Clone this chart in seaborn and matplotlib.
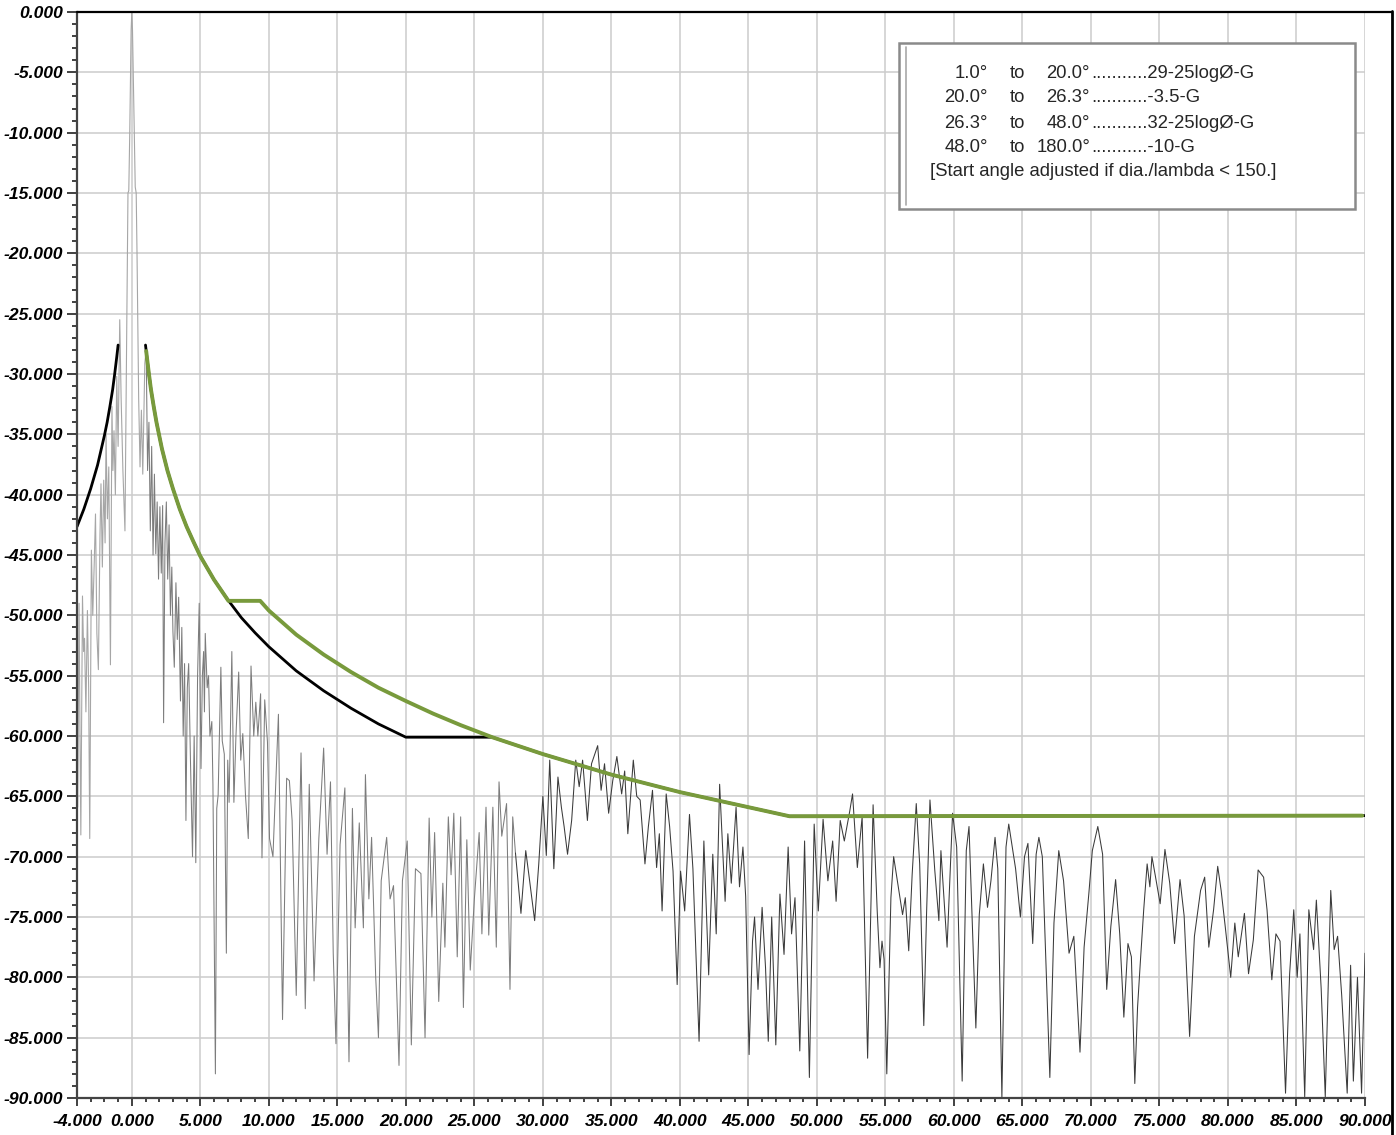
import matplotlib
matplotlib.use("Agg")
import matplotlib.pyplot as plt
import seaborn as sns
import pandas as pd
from matplotlib.ticker import FixedLocator, MultipleLocator, FuncFormatter
from matplotlib.lines import Line2D
from matplotlib.patches import Rectangle

# ---------------- data ----------------
trace_x = [-4.0, -3.95, -3.85, -3.78, -3.72, -3.6, -3.52, -3.45, -3.35, -3.24, -3.15, -3.07, -2.95, -2.85, -2.75,
           -2.65, -2.55, -2.44, -2.32, -2.25, -2.15, -2.05, -1.95, -1.88, -1.78, -1.68, -1.56, -1.45, -1.38, -1.3,
           -1.2, -1.1, -1.0, -0.88, -0.78, -0.65, -0.5, -0.4, -0.32, -0.28, -0.22, -0.15, -0.05, 0.0,
           0.05, 0.15, 0.25, 0.32, 0.38, 0.5, 0.6, 0.7, 0.8, 0.95, 1.05, 1.15, 1.25, 1.35, 1.45, 1.55, 1.65, 1.75,
           1.85, 1.95, 2.05, 2.15, 2.25, 2.32, 2.42, 2.52, 2.62, 2.72, 2.82, 2.92, 3.0, 3.1, 3.22, 3.32, 3.42, 3.55,
           3.65, 3.75, 3.85, 3.95, 4.05, 4.15, 4.28, 4.43, 4.55, 4.67, 4.8, 4.92, 5.05, 5.15, 5.24, 5.3, 5.36, 5.5,
           5.6, 5.7, 5.84, 5.92, 6.1, 6.2, 6.3, 6.5, 6.6, 6.75, 6.9, 7.0, 7.1, 7.3, 7.45, 7.6, 7.8, 7.95, 8.1, 8.3,
           8.5, 8.7, 8.9, 9.05, 9.2, 9.4, 9.5, 9.7, 9.9, 10.05, 10.3, 10.7, 11.0, 11.3, 11.5, 11.7, 12.0, 12.35,
           12.66, 12.95, 13.3, 13.65, 14.0, 14.25, 14.5, 14.7, 14.9, 15.2, 15.55, 15.85, 16.1, 16.3, 16.6, 16.9,
           17.05, 17.3, 17.5, 17.8, 18.0, 18.2, 18.6, 18.85, 19.1, 19.5, 19.75, 20.1, 20.4, 20.7, 21.1, 21.4, 21.7,
           21.9, 22.1, 22.4, 22.7, 22.85, 23.1, 23.3, 23.5, 23.75, 24.0, 24.2, 24.45, 24.7, 25.0, 25.35, 25.55,
           25.85, 26.05, 26.35, 26.6, 26.8, 27.0, 27.35, 27.6, 27.8, 28.0, 28.4, 28.75, 29.0, 29.4, 29.7, 30.0,
           30.25, 30.5, 30.8, 31.1, 31.35, 31.55, 31.8, 32.1, 32.4, 32.65, 32.9, 33.25, 33.55, 34.0, 34.25, 34.5,
           34.8, 35.1, 35.4, 35.75, 35.97, 36.2, 36.6, 36.85, 37.1, 37.45, 37.7, 38.0, 38.3, 38.5, 38.7, 39.0,
           39.25, 39.5, 39.8, 40.05, 40.35, 40.7, 40.95, 41.4, 41.75, 42.1, 42.4, 42.65, 42.9, 43.3, 43.5, 43.75,
           44.1, 44.35, 44.6, 44.8, 45.05, 45.3, 45.45, 45.7, 46.0, 46.25, 46.45, 46.7, 47.0, 47.3, 47.6, 47.9,
           48.15, 48.4, 48.75, 49.1, 49.45, 49.8, 50.1, 50.45, 50.8, 51.15, 51.4, 51.7, 52.0, 52.4, 52.6, 52.95,
           53.3, 53.7, 54.1, 54.4, 54.6, 54.75, 54.9, 55.1, 55.4, 55.6, 55.9, 56.25, 56.45, 56.7, 56.95, 57.25,
           57.5, 57.8, 58.0, 58.25, 58.6, 58.9, 59.05, 59.5, 59.9, 60.2, 60.6, 60.9, 61.1, 61.6, 61.85, 62.15,
           62.45, 62.7, 63.0, 63.2, 63.5, 63.8, 64.0, 64.5, 64.85, 65.15, 65.4, 65.75, 66.0, 66.2, 66.45, 67.0,
           67.3, 67.65, 68.0, 68.4, 68.75, 69.2, 69.5, 69.85, 70.1, 70.5, 70.85, 71.15, 71.45, 71.8, 72.1, 72.4,
           72.7, 72.95, 73.2, 73.4, 73.6, 73.85, 74.1, 74.3, 74.45, 74.7, 75.05, 75.4, 75.75, 76.1, 76.5, 76.8,
           77.2, 77.55, 78.0, 78.3, 78.6, 78.95, 79.25, 79.5, 79.8, 80.2, 80.5, 80.75, 81.2, 81.5, 81.85, 82.2,
           82.6, 82.85, 83.2, 83.5, 83.8, 84.2, 84.5, 84.8, 85.05, 85.25, 85.6, 85.9, 86.25, 86.45, 86.8, 87.1,
           87.5, 87.75, 88.0, 88.3, 88.7, 88.95, 89.15, 89.45, 89.75, 90.0]
trace_y = [-55.0, -65.9, -49.0, -60.0, -68.2, -48.4, -53.0, -51.9, -58.0, -49.6, -56.0, -68.5, -44.6, -50.0, -46.0,
           -41.6, -51.5, -54.5, -43.2, -39.1, -46.0, -38.8, -44.0, -35.0, -42.0, -37.7, -54.1, -32.7, -38.0, -34.7,
           -40.0, -30.2, -36.0, -25.5, -32.0, -38.0, -43.0, -30.0, -20.0, -15.0, -14.8, -10.0, -1.5, 0.0,
           -1.5, -8.0, -14.5, -15.0, -20.0, -32.0, -37.7, -33.0, -38.3, -29.1, -28.0, -38.0, -34.0, -43.0, -36.0,
           -45.0, -38.3, -44.9, -40.6, -47.0, -41.0, -46.5, -40.9, -58.9, -44.0, -40.6, -47.0, -42.5, -50.0, -46.0,
           -51.3, -54.3, -47.3, -52.0, -48.5, -57.1, -51.0, -60.0, -54.0, -67.0, -56.0, -54.0, -62.0, -70.0, -60.0,
           -70.5, -55.0, -49.0, -62.7, -55.0, -53.0, -58.0, -51.5, -56.0, -55.0, -60.0, -58.8, -64.0, -88.0, -66.0,
           -64.9, -54.3, -60.4, -61.5, -78.0, -62.0, -65.5, -53.0, -65.5, -60.0, -54.7, -62.0, -59.8, -65.0, -68.5,
           -54.2, -60.0, -57.2, -60.0, -56.5, -70.1, -57.0, -60.5, -68.5, -70.0, -58.2, -83.5, -63.5, -63.7, -67.0,
           -81.5, -61.4, -82.6, -64.0, -80.3, -68.5, -61.0, -69.8, -63.8, -78.0, -85.5, -69.0, -64.3, -87.0, -66.0,
           -75.9, -67.2, -75.9, -63.2, -73.5, -68.4, -80.0, -85.0, -72.0, -68.4, -73.5, -72.4, -87.3, -72.0, -68.7,
           -85.6, -71.0, -71.4, -85.0, -66.8, -75.0, -68.0, -82.0, -72.2, -77.5, -66.7, -71.5, -66.4, -78.3, -66.7,
           -82.5, -68.6, -79.4, -73.5, -68.0, -76.4, -65.9, -76.5, -65.9, -77.5, -63.8, -68.3, -65.6, -81.0, -66.7,
           -69.7, -74.7, -69.5, -71.7, -75.3, -70.6, -65.0, -69.9, -62.0, -71.0, -63.4, -65.9, -67.5, -69.8, -67.0,
           -62.0, -64.2, -62.0, -67.0, -62.3, -60.8, -64.5, -62.3, -66.4, -63.7, -61.7, -64.8, -62.9, -68.1, -62.0,
           -65.0, -65.3, -70.6, -67.5, -64.5, -70.9, -68.1, -74.5, -64.8, -67.5, -71.2, -80.6, -71.2, -74.5, -66.5,
           -71.0, -85.3, -68.7, -79.8, -69.8, -76.4, -64.0, -73.7, -68.1, -72.2, -65.9, -72.5, -69.2, -73.3, -86.4,
           -77.0, -75.0, -81.0, -74.2, -79.2, -85.3, -75.0, -85.6, -73.1, -78.1, -69.2, -76.4, -73.4, -86.1, -68.7,
           -88.3, -67.3, -74.5, -66.9, -72.0, -68.7, -73.7, -67.0, -68.7, -66.2, -64.8, -70.9, -66.7, -86.7, -65.7,
           -74.5, -79.2, -77.0, -78.5, -88.0, -73.4, -70.0, -72.2, -74.8, -73.4, -77.8, -71.5, -65.6, -70.6, -84.0,
           -74.8, -65.3, -71.1, -75.3, -69.5, -77.5, -66.4, -69.2, -88.6, -69.5, -67.5, -84.2, -74.8, -70.6, -74.2,
           -72.0, -68.4, -71.0, -90.0, -69.2, -67.3, -71.0, -75.0, -70.0, -68.9, -77.2, -69.8, -68.4, -70.0, -88.3,
           -75.5, -69.5, -72.0, -78.0, -76.6, -86.2, -77.5, -73.0, -69.5, -67.5, -69.8, -81.0, -75.8, -71.9, -76.4,
           -83.3, -77.2, -78.3, -88.8, -82.5, -78.8, -74.4, -70.6, -72.5, -70.0, -71.6, -73.9, -69.4, -72.2, -77.2,
           -71.9, -74.9, -84.9, -76.6, -72.8, -71.7, -77.5, -74.4, -70.8, -72.8, -75.8, -80.0, -75.5, -78.3, -74.7,
           -79.7, -76.9, -71.1, -71.7, -74.4, -80.2, -76.4, -77.0, -89.6, -79.7, -74.4, -80.0, -76.4, -89.9, -74.4,
           -77.7, -73.6, -80.9, -89.9, -72.8, -77.7, -76.6, -81.5, -89.6, -79.0, -88.6, -80.0, -89.6, -78.0]

mask_left_x = [-4.0, -3.5, -3.0, -2.5, -2.0, -1.8, -1.6, -1.4, -1.25, -1.1, -1.0]
mask_left_y = [-42.65, -41.2, -39.5, -37.55, -35.1, -34.0, -32.7, -31.3, -30.0, -28.6, -27.6]

mask_right_x = [1.0, 1.1, 1.25, 1.4, 1.6, 1.8, 2.0, 2.2, 2.6, 3.0, 3.5, 4.0, 4.5, 5.0, 6.0, 7.0, 8.0, 9.0,
                10.0, 12.0, 14.0, 16.0, 18.0, 20.0, 26.3, 30.0, 35.0, 40.0, 45.0, 48.0, 90.0]
mask_right_y = [-27.6, -28.6, -30.0, -31.3, -32.7, -34.0, -35.1, -36.2, -38.0, -39.5, -41.2, -42.65, -43.9,
                -45.1, -47.05, -48.7, -50.2, -51.45, -52.6, -54.6, -56.25, -57.7, -59.0, -60.1, -60.1, -61.5,
                -63.2, -64.65, -65.9, -66.65, -66.6]

green_x = [1.05, 1.1, 1.25, 1.4, 1.6, 1.8, 2.0, 2.2, 2.6, 3.0, 3.5, 4.0, 4.5, 5.0, 6.0, 7.05, 9.37, 10.0,
           11.0, 12.0, 14.0, 16.0, 18.0, 20.0, 22.0, 24.0, 26.3, 30.0, 35.0, 40.0, 45.0, 48.0, 89.8]
green_y = [-28.1, -28.6, -30.0, -31.3, -32.7, -34.0, -35.1, -36.2, -38.0, -39.5, -41.2, -42.65, -43.9, -45.1,
           -47.05, -48.8, -48.8, -49.6, -50.6, -51.6, -53.25, -54.7, -56.0, -57.1, -58.15, -59.1, -60.1, -61.5,
           -63.2, -64.65, -65.9, -66.65, -66.6]

x_ticks = [-4, 0, 5, 10, 15, 20, 25, 30, 35, 40, 45, 50, 55, 60, 65, 70, 75, 80, 85, 90]
y_ticks = [0, -5, -10, -15, -20, -25, -30, -35, -40, -45, -50, -55, -60, -65, -70, -75, -80, -85, -90]

legend_from = ["1.0°", "20.0°", "26.3°", "48.0°"]
legend_to = ["20.0°", "26.3°", "48.0°", "180.0°"]
legend_rule = ["...........29-25logØ-G", "...........-3.5-G", "...........32-25logØ-G", "...........-10-G"]
legend_note = "[Start angle adjusted if dia./lambda < 150.]"

# ---------------- figure ----------------
sns.set_style("white")
plt.rcParams['font.family'] = ['Liberation Sans', 'DejaVu Sans']

W, H = 1396, 1135
fig = plt.figure(figsize=(W / 100, H / 100), dpi=100)
ax = fig.add_axes([77 / W, 1 - 1098 / H, 1288 / W, (1098 - 12) / H])

trace = pd.DataFrame({"x": trace_x, "y": trace_y})
# colour of the measured trace darkens with angle, as in the reference
seg_lobe = trace[trace["x"] <= 1.05]
seg_mid = trace[(trace["x"] >= 1.05) & (trace["x"] <= 28.0)]
seg_far = trace[trace["x"] >= 28.0]
sns.lineplot(data=seg_lobe, x="x", y="y", ax=ax, color="#a6a6a6", lw=0.8, estimator=None, sort=False)
sns.lineplot(data=seg_mid, x="x", y="y", ax=ax, color="#7c7c7c", lw=0.75, estimator=None, sort=False)
sns.lineplot(data=seg_far, x="x", y="y", ax=ax, color="#3a3a3a", lw=0.75, estimator=None, sort=False)

sns.lineplot(x=mask_left_x, y=mask_left_y, ax=ax, color="black", lw=2.0, estimator=None, sort=False)
sns.lineplot(x=mask_right_x, y=mask_right_y, ax=ax, color="black", lw=2.0, estimator=None, sort=False)
sns.lineplot(x=green_x, y=green_y, ax=ax, color="#789a3c", lw=2.8, estimator=None, sort=False)

ax.set_xlim(-4, 90)
ax.set_ylim(-90, 0)
ax.set_xlabel("")
ax.set_ylabel("")

ax.xaxis.set_major_locator(FixedLocator(x_ticks))
ax.xaxis.set_minor_locator(MultipleLocator(1))
ax.yaxis.set_major_locator(FixedLocator(y_ticks))
ax.yaxis.set_minor_locator(MultipleLocator(1))
fmt = FuncFormatter(lambda v, p: f"{v:.3f}")
ax.xaxis.set_major_formatter(fmt)
ax.yaxis.set_major_formatter(fmt)

for lab in ax.get_xticklabels() + ax.get_yticklabels():
    lab.set_fontweight("bold")
    lab.set_fontstyle("italic")
    lab.set_fontsize(12.6)
    lab.set_color("black")

ax.tick_params(axis="y", which="major", length=7, width=1.3, color="#333333", pad=3, left=True)
ax.tick_params(axis="y", which="minor", length=3.5, width=1.3, color="#333333", left=True)
ax.tick_params(axis="x", which="major", length=5.5, width=1.3, color="#333333", pad=6, bottom=True)
ax.tick_params(axis="x", which="minor", length=3, width=1.3, color="#333333", bottom=True)

ax.grid(True, which="major", color="#cccccc", lw=1.1)
ax.set_axisbelow(True)

for s in ["left", "bottom"]:
    ax.spines[s].set_color("#444444")
    ax.spines[s].set_linewidth(1.6)
ax.spines["right"].set_visible(False)
ax.spines["top"].set_visible(False)

# outer frame lines (top line and right border)
fig.add_artist(Line2D([77 / W, 1393 / W], [1 - 12 / H, 1 - 12 / H], color="black", lw=1.6, transform=fig.transFigure))
fig.add_artist(Line2D([1392 / W, 1392 / W], [0, 1 - 11 / H], color="black", lw=2.0, transform=fig.transFigure, zorder=10))
fig.add_artist(Rectangle((1393 / W, 0), 3 / W, 1, facecolor="white", edgecolor="none", transform=fig.transFigure, zorder=9))

# legend box
def fx(px):
    return px / W

def fy(py):
    return 1 - py / H

fig.add_artist(Rectangle((fx(899), fy(209)), (1355 - 899) / W, (209 - 43) / H, facecolor="white",
                         edgecolor="#8a8a8a", lw=1.8, transform=fig.transFigure, zorder=5))
fig.add_artist(Line2D([fx(906), fx(906)], [fy(47), fy(205)], color="#a8a8a8", lw=1.2,
                      transform=fig.transFigure, zorder=6))

rows = [74, 98, 123, 147]
fs = 13.3
for i, py in enumerate(rows):
    fig.text(fx(988), fy(py), legend_from[i], ha="right", va="center", fontsize=fs, zorder=7)
    fig.text(fx(1010), fy(py), "to", ha="left", va="center", fontsize=fs, zorder=7)
    fig.text(fx(1090), fy(py), legend_to[i], ha="right", va="center", fontsize=fs, zorder=7)
    fig.text(fx(1091), fy(py), legend_rule[i], ha="left", va="center", fontsize=fs, zorder=7)
fig.text(fx(930), fy(172), legend_note, ha="left", va="center", fontsize=fs, zorder=7)

fig.savefig("out.png", dpi=100, facecolor="white")
